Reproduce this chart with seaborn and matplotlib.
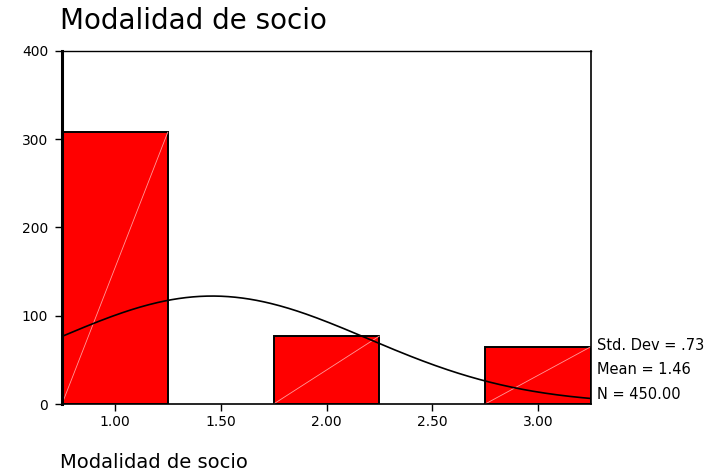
import numpy as np
import pandas as pd
import matplotlib
matplotlib.use("Agg")
import matplotlib.pyplot as plt
import seaborn as sns

# Membership category codes and their frequencies
categories = [1.0, 2.0, 3.0]
counts = [308, 77, 65]
x_ticks = [1.0, 1.5, 2.0, 2.5, 3.0]
y_ticks = [0, 100, 200, 300, 400]
title_text = "Modalidad de socio"

df = pd.DataFrame({"modalidad": categories, "n": counts})

n_total = float(np.sum(counts))
mean = np.sum(np.array(categories) * np.array(counts)) / n_total
var = np.sum(np.array(counts) * (np.array(categories) - mean) ** 2) / (n_total - 1)
sd = np.sqrt(var)

sns.set_theme(style="white")
plt.rcParams["font.family"] = ["DejaVu Sans"]
plt.rcParams["text.color"] = "black"

fig = plt.figure(figsize=(7.17, 4.73), dpi=100)
ax = fig.add_axes([62 / 717, 1 - 404 / 473, (591 - 62) / 717, (404 - 51) / 473])

sns.histplot(data=df, x="modalidad", weights="n", discrete=True, shrink=0.5,
             color="#ff0000", alpha=1.0, edgecolor="black", linewidth=1.4, ax=ax)

# faint diagonal highlight inside every bar
for p in ax.patches:
    x0, w, h = p.get_x(), p.get_width(), p.get_height()
    ax.plot([x0, x0 + w], [0, h], color="#ff9a9a", lw=0.6, zorder=p.get_zorder() + 0.1)

# fitted normal curve scaled to the bin width
bin_w = 0.5
xs = np.linspace(0.75, 3.25, 300)
ys = n_total * bin_w * np.exp(-0.5 * ((xs - mean) / sd) ** 2) / (sd * np.sqrt(2 * np.pi))
sns.lineplot(x=xs, y=ys, color="black", lw=1.2, ax=ax)

ax.set_xlim(0.75, 3.25)
ax.set_ylim(0, 400)
ax.set_xticks(x_ticks)
ax.set_xticklabels([f"{t:.2f}" for t in x_ticks], fontsize=10)
ax.set_yticks(y_ticks)
ax.set_yticklabels([str(t) for t in y_ticks], fontsize=10)
ax.tick_params(axis="both", direction="out", length=5, width=1, color="black",
               labelcolor="black", bottom=True, left=True, pad=3)
ax.tick_params(axis="y", pad=5)
ax.set_xlabel("")
ax.set_ylabel("")

for side, lw in (("left", 2.2), ("top", 1.0), ("right", 1.2), ("bottom", 1.2)):
    ax.spines[side].set_visible(True)
    ax.spines[side].set_color("black")
    ax.spines[side].set_linewidth(lw)

fig.text(60 / 717, 1 - 21 / 473, title_text, fontsize=20, va="center", ha="left", color="black")
fig.text(60 / 717, 1 - 462 / 473, title_text, fontsize=14, va="center", ha="left", color="black")

sd_txt = f"{sd:.2f}".lstrip("0")
stats = [f"Std. Dev = {sd_txt}", f"Mean = {mean:.2f}", f"N = {n_total:.2f}"]
for i, s in enumerate(stats):
    fig.text(597 / 717, 1 - (346 + 24 * i) / 473, s, fontsize=10.5, va="center", ha="left",
             color="black")

fig.savefig("out.png", dpi=100)
